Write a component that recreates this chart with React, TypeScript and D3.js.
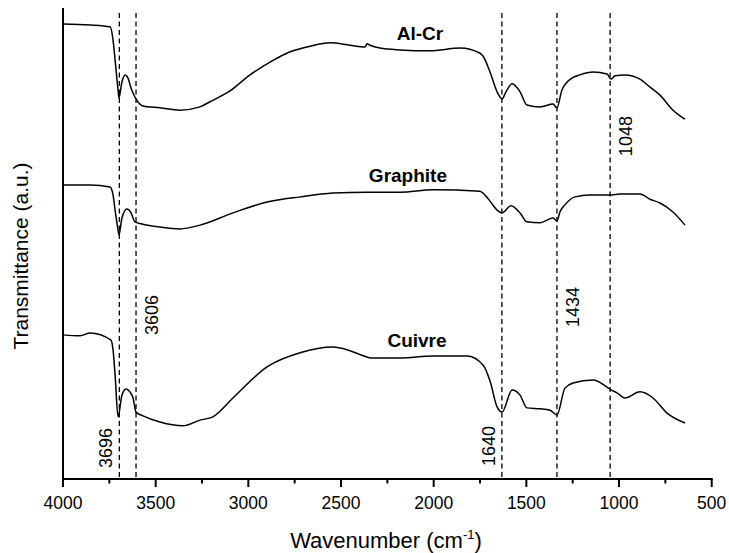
import React from "react";
import * as d3 from "d3";

// Wavenumber (cm-1) and transmittance (a.u.)
const alCrWn = [4000, 3854, 3746, 3730, 3719, 3703, 3698, 3682, 3665, 3649, 3633, 3612, 3585, 3568, 3477, 3369, 3261, 3207, 3099, 2991, 2883, 2775, 2667, 2559, 2452, 2371, 2360, 2344, 2290, 2182, 2020, 1858, 1750, 1734, 1696, 1658, 1631, 1610, 1577, 1534, 1497, 1426, 1356, 1335, 1308, 1254, 1211, 1140, 1065, 1043, 1022, 968, 887, 833, 779, 709, 671, 644];
const alCrT = [96.6, 96.4, 96.0, 93.2, 89.0, 82.6, 80.9, 84.3, 85.8, 85.1, 83.0, 81.1, 79.6, 79.2, 78.8, 78.3, 79.0, 80.1, 82.4, 85.8, 88.5, 90.7, 91.9, 92.6, 92.1, 91.7, 92.4, 92.1, 91.5, 91.1, 90.9, 91.5, 90.4, 89.8, 86.4, 82.2, 80.7, 82.2, 83.9, 82.2, 79.4, 79.0, 79.6, 78.8, 82.6, 85.1, 85.8, 86.4, 86.0, 84.9, 85.6, 85.8, 84.9, 83.2, 81.5, 78.3, 77.1, 76.4];

const graphiteWn = [4000, 3854, 3746, 3730, 3719, 3703, 3698, 3682, 3655, 3633, 3612, 3568, 3477, 3369, 3261, 3083, 2899, 2721, 2543, 2360, 2182, 2004, 1750, 1734, 1696, 1658, 1631, 1583, 1534, 1497, 1426, 1356, 1335, 1319, 1292, 1238, 1157, 1043, 995, 887, 833, 779, 709, 644];
const graphiteT = [62.4, 62.4, 62.0, 60.3, 57.1, 52.9, 51.8, 55.4, 57.3, 56.5, 54.6, 54.1, 53.5, 53.1, 53.9, 56.5, 58.8, 59.9, 60.7, 60.9, 60.9, 61.4, 61.1, 60.7, 59.0, 57.1, 56.5, 58.0, 56.5, 54.6, 54.4, 55.4, 54.8, 56.7, 58.2, 59.9, 60.3, 60.3, 60.5, 60.5, 59.4, 58.6, 56.7, 53.9];

const cuivreWn = [4000, 3908, 3854, 3741, 3730, 3719, 3703, 3682, 3660, 3639, 3622, 3606, 3568, 3477, 3353, 3261, 3191, 3083, 2899, 2721, 2543, 2360, 2344, 2182, 2004, 1820, 1734, 1696, 1658, 1631, 1577, 1534, 1497, 1426, 1372, 1335, 1292, 1248, 1140, 1065, 1043, 1011, 968, 887, 817, 741, 644];
const cuivreT = [30.6, 30.4, 31.0, 29.5, 27.4, 22.1, 13.2, 17.8, 19.1, 18.5, 17.2, 14.2, 13.4, 12.1, 11.3, 12.5, 13.2, 17.2, 23.8, 26.8, 28.0, 25.9, 25.7, 25.7, 26.1, 26.1, 24.2, 20.8, 15.3, 14.2, 18.9, 17.8, 15.1, 14.9, 14.6, 13.6, 19.3, 20.4, 21.0, 19.5, 18.9, 18.3, 17.2, 18.5, 17.2, 14.0, 11.9];

const seriesNames = ["Al-Cr", "Graphite", "Cuivre"];
const seriesLabelWn = [2074, 2139, 2090];
const seriesLabelT = [93.2, 63.1, 28.0];

const markerWn = [3696, 3606, 1632, 1335, 1048];
const markerLabels = ["3696", "3606", "1640", "1434", "1048"];
const markerLabelT = [6.6, 34.8, 7.0, 36.5, 72.8];
const markerLabelSide = [-1, 1, -1, 1, 1];

const xTicks = [4000, 3500, 3000, 2500, 2000, 1500, 1000, 500];
const xMinorTicks = [3750, 3250, 2750, 2250, 1750, 1250, 750];

const W = 729;
const H = 553;
const left = 63;
const right = 711.7;
const top = 8;
const bottom = 479;
const FONT = "'Liberation Sans', Arial, sans-serif";

export default function App() {
  const x = d3.scaleLinear().domain([4000, 500]).range([left, right]);
  const y = d3.scaleLinear().domain([0, 100]).range([bottom, top]);
  const line = d3
    .line<[number, number]>()
    .x((d) => x(d[0]))
    .y((d) => y(d[1]))
    .curve(d3.curveMonotoneX);

  const series = [
    d3.zip(alCrWn, alCrT) as [number, number][],
    d3.zip(graphiteWn, graphiteT) as [number, number][],
    d3.zip(cuivreWn, cuivreT) as [number, number][],
  ];

  return (
    <svg
      width={W}
      height={H}
      style={{ position: "absolute", left: 0, top: 0, background: "#fff" }}
      fontFamily={FONT}
    >
      <rect width={W} height={H} fill="#fff" />
      {markerWn.map((m, i) => (
        <line
          key={"m" + i}
          x1={x(m)}
          x2={x(m)}
          y1={13}
          y2={bottom - 1}
          stroke="#000"
          strokeWidth={1.3}
          strokeDasharray="5,3.5"
        />
      ))}
      {series.map((s, i) => (
        <path key={"s" + i} d={line(s) || ""} fill="none" stroke="#000" strokeWidth={1.5} strokeLinejoin="round" />
      ))}
      {seriesNames.map((n, i) => (
        <text
          key={"n" + i}
          x={x(seriesLabelWn[i])}
          y={y(seriesLabelT[i])}
          textAnchor="middle"
          fontWeight="bold"
          fontSize={19}
        >
          {n}
        </text>
      ))}
      {markerLabels.map((t, i) => {
        const bx = x(markerWn[i]) + (markerLabelSide[i] < 0 ? -7 : 22);
        const by = y(markerLabelT[i]);
        return (
          <text
            key={"ml" + i}
            transform={`translate(${bx},${by}) rotate(-90)`}
            textAnchor="middle"
            fontSize={18}
          >
            {t}
          </text>
        );
      })}
      {/* axes */}
      <line x1={left} x2={left} y1={top} y2={bottom + 1} stroke="#000" strokeWidth={2} />
      <line x1={left - 1} x2={right + 1} y1={bottom} y2={bottom} stroke="#000" strokeWidth={2} />
      {xTicks.map((t) => (
        <g key={"t" + t}>
          <line x1={x(t)} x2={x(t)} y1={bottom} y2={bottom + 8} stroke="#000" strokeWidth={2} />
          <text x={x(t)} y={509} textAnchor="middle" fontSize={17.5}>
            {t}
          </text>
        </g>
      ))}
      {xMinorTicks.map((t) => (
        <line key={"mt" + t} x1={x(t)} x2={x(t)} y1={bottom} y2={bottom + 4.5} stroke="#000" strokeWidth={2} />
      ))}
      <text x={386} y={548} textAnchor="middle" fontSize={22}>
        Wavenumber (cm
        <tspan fontSize={13} dy={-9}>-1</tspan>
        <tspan dy={9}>)</tspan>
      </text>
      <text transform={`translate(28,256) rotate(-90)`} textAnchor="middle" fontSize={21}>
        Transmittance (a.u.)
      </text>
    </svg>
  );
}
